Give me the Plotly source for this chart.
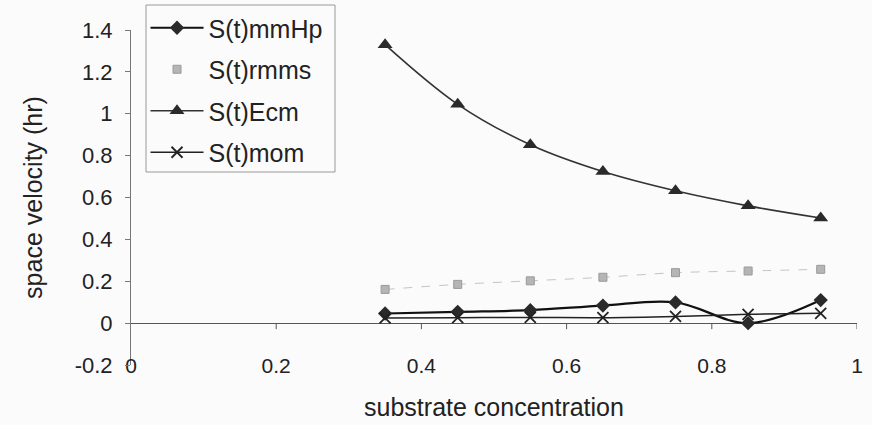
import plotly.graph_objects as go

x_vals = [0.35, 0.45, 0.55, 0.65, 0.75, 0.85, 0.95]
s_mmhp = [0.046, 0.054, 0.062, 0.084, 0.099, 0.0, 0.11]
s_rmms = [0.161, 0.185, 0.202, 0.219, 0.241, 0.249, 0.257]
s_ecm = [1.33, 1.045, 0.852, 0.724, 0.632, 0.56, 0.502]
s_mom = [0.025, 0.026, 0.027, 0.026, 0.032, 0.042, 0.047]

x_ticks = [0, 0.2, 0.4, 0.6, 0.8, 1]
x_tick_text = ["0", "0.2", "0.4", "0.6", "0.8", "1"]
y_ticks = [-0.2, 0, 0.2, 0.4, 0.6, 0.8, 1, 1.2, 1.4]
y_tick_text = ["-0.2", "0", "0.2", "0.4", "0.6", "0.8", "1", "1.2", "1.4"]

FONT = "Liberation Sans, Arial, sans-serif"
DARK = "#2a2a2a"

fig = go.Figure()

fig.add_trace(go.Scatter(
    x=x_vals, y=s_mmhp, name="S(t)mmHp", legendgroup="a",
    mode="lines+markers", line=dict(color="#111", width=2.2, shape="spline"),
    marker=dict(symbol="diamond", size=11, color=DARK)))
fig.add_trace(go.Scatter(
    x=x_vals, y=s_rmms, showlegend=False, hoverinfo="skip",
    mode="lines", line=dict(color="#c4c4c4", width=1, dash="dash", shape="spline")))
fig.add_trace(go.Scatter(
    x=x_vals, y=s_rmms, name="S(t)rmms", legendgroup="b",
    mode="markers",
    marker=dict(symbol="square", size=8, color="#b5b5b5", line=dict(color="#9a9a9a", width=1))))
fig.add_trace(go.Scatter(
    x=x_vals, y=s_ecm, name="S(t)Ecm", legendgroup="c",
    mode="lines+markers", line=dict(color="#333", width=1.6, shape="spline"),
    marker=dict(symbol="triangle-up", size=13, color=DARK)))
fig.add_trace(go.Scatter(
    x=x_vals, y=s_mom, name="S(t)mom", legendgroup="d",
    mode="lines+markers", line=dict(color="#222", width=1.5, shape="spline"),
    marker=dict(symbol="x-thin", size=11, line=dict(color="#222", width=1.8))))

PLOT_W = 872 - 131 - 15
PLOT_H = 425 - 5 - 60

shapes = []
for t in x_ticks[1:]:
    shapes.append(dict(type="line", xref="x", yref="y", xsizemode="scaled",
                       ysizemode="pixel", yanchor=0, x0=t, x1=t, y0=0, y1=-6,
                       line=dict(color="#555", width=1)))
# legend frame
shapes.append(dict(type="rect", xref="paper", yref="paper", layer="above",
                   x0=15 / PLOT_W, x1=204 / PLOT_W,
                   y0=1 - 167 / PLOT_H, y1=1.0,
                   line=dict(color="#999", width=1), fillcolor="rgba(0,0,0,0)"))

fig.update_layout(
    width=872, height=425,
    margin=dict(l=131, r=15, t=5, b=60, autoexpand=False),
    paper_bgcolor="#fbfbfb", plot_bgcolor="#fbfbfb",
    font=dict(family=FONT, color="#222", size=21),
    shapes=shapes,
    showlegend=True,
    legend=dict(x=0.02, y=1.0, xanchor="left", yanchor="top",
                bgcolor="rgba(0,0,0,0)", borderwidth=0,
                font=dict(size=25, family=FONT), tracegroupgap=6,
                itemwidth=53),
    xaxis=dict(range=[0, 1], tickvals=x_ticks, ticktext=x_tick_text,
               showgrid=False, zeroline=False, showline=False, ticks="",
               anchor="free", position=14 / PLOT_H,
               tickfont=dict(size=21),
               title=dict(text="substrate concentration", font=dict(size=25), standoff=22)),
    yaxis=dict(range=[-0.2, 1.4], tickvals=y_ticks, ticktext=y_tick_text,
               domain=[0, 1 - 25 / PLOT_H],
               showgrid=False, zeroline=True, zerolinecolor="#555", zerolinewidth=1,
               showline=True, linecolor="#777", linewidth=1,
               ticks="outside", ticklen=5, tickcolor="#777",
               ticklabelstandoff=8,
               tickfont=dict(size=22),
               title=dict(text="space velocity (hr)", font=dict(size=25), standoff=24)),
)

fig.write_html("out.html", config={"displayModeBar": False},
               post_script="document.body.style.margin='0';")
